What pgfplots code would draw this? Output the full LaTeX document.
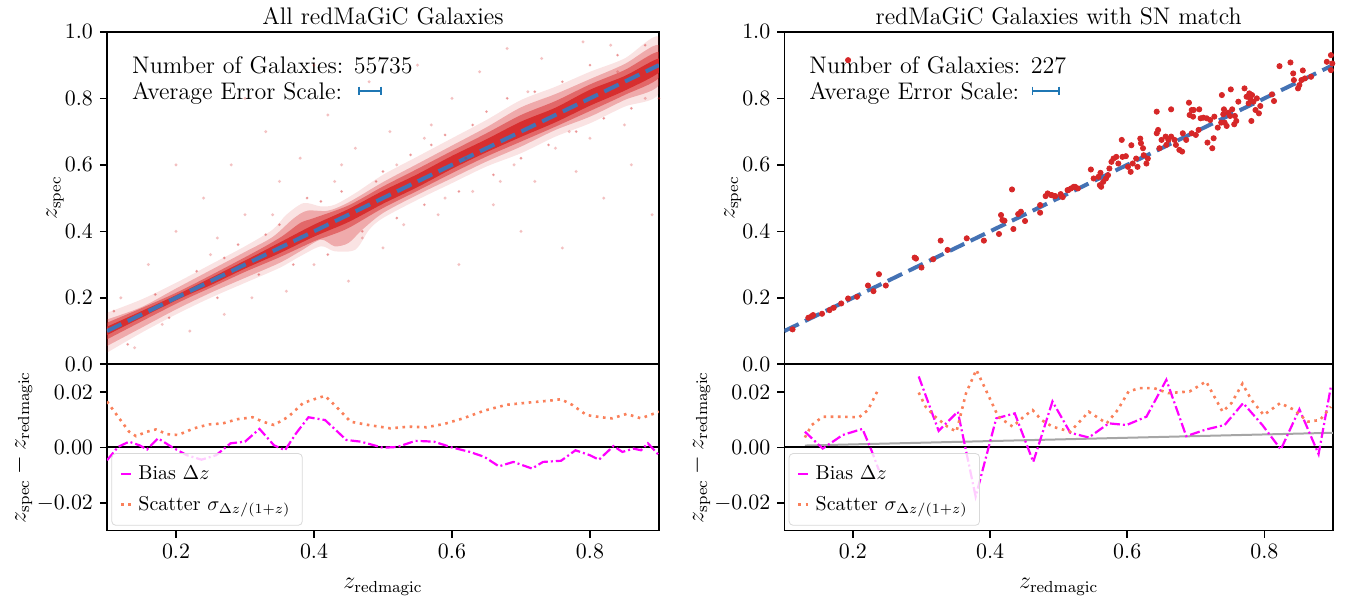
\documentclass[border=0pt]{standalone}
\usepackage{pgfplots}
\pgfplotsset{compat=1.18}
\definecolor{ptred}{RGB}{214,39,40}
\definecolor{lineblue}{RGB}{68,114,180}
\definecolor{errblue}{RGB}{31,119,180}
\definecolor{biasmag}{RGB}{255,0,255}
\definecolor{scatorange}{RGB}{250,128,90}
\tikzset{annot/.style={anchor=base west, inner sep=0pt, font=\fontsize{12}{14}\selectfont}}
\pgfplotsset{
  base/.style={scale only axis, xmin=0.1, xmax=0.9, tick align=outside,
    xtick pos=bottom, ytick pos=left, major tick length=3.5pt,
    tick style={black, line width=0.8pt}, axis line style={line width=0.8pt},
    tick label style={font=\fontsize{10.6}{12}\selectfont},
    label style={font=\fontsize{12}{14}\selectfont},
    title style={font=\fontsize{12}{14}\selectfont, yshift=-6pt},
    scaled ticks=false},
  topax/.style={base, ymin=0, ymax=1, ytick={0,0.2,0.4,0.6,0.8,1}, xtick=\empty,
    yticklabel style={/pgf/number format/.cd, fixed, fixed zerofill, precision=1},
    ylabel={$z_{\mathrm{spec}}$},
    ylabel style={at={(axis description cs:-0.094,0.5)}, anchor=center}},
  botax/.style={base, ymin=-0.03, ymax=0.03, ytick={-0.02,0,0.02},
    xtick={0.2,0.4,0.6,0.8},
    yticklabel style={/pgf/number format/.cd, fixed, fixed zerofill, precision=2},
    xticklabel style={/pgf/number format/.cd, fixed, fixed zerofill, precision=1},
    xlabel={$z_{\mathrm{redmagic}}$},
    xlabel style={yshift=-3pt},
    ylabel={$z_{\mathrm{spec}}-z_{\mathrm{redmagic}}$},
    ylabel style={at={(axis description cs:-0.154,0.5)}, anchor=center},
    unbounded coords=jump,
    legend style={at={(0.008,0.03)}, anchor=south west, draw=black!15, rounded corners=2pt,
      fill=white, fill opacity=0.8, text opacity=1, font=\fontsize{10}{12}\selectfont,
      inner xsep=4pt, inner ysep=4pt, row sep=3pt},
    legend cell align=left,
    legend image code/.code={\draw[##1] (0pt,0pt) -- (6pt,0pt);}},
  biasline/.style={biasmag, line width=1.1pt, dash pattern=on 5pt off 1.5pt on 1pt off 1.5pt},
  scatline/.style={scatorange, line width=1.3pt, dash pattern=on 1.3pt off 2.3pt},
}
\begin{document}
\begin{tikzpicture}
\useasboundingbox (0pt,0pt) rectangle (672.5pt,299pt);

% ---------------- left top ----------------
\begin{axis}[topax, at={(53.5pt,116.85pt)}, anchor=south west, width=276pt, height=166.2pt,
  title={All redMaGiC Galaxies}]
\addplot[ptred, only marks, mark=*, mark size=0.6pt, opacity=0.18, forget plot] coordinates {
(0.12,0.2) (0.14,0.05) (0.16,0.3) (0.18,0.12) (0.2,0.4) (0.22,0.1) (0.24,0.5) (0.25,0.33)
(0.27,0.15) (0.28,0.6) (0.3,0.45) (0.31,0.2) (0.33,0.7) (0.35,0.55) (0.36,0.22) (0.38,0.62)
(0.4,0.3) (0.42,0.75) (0.43,0.55) (0.45,0.25) (0.46,0.65) (0.48,0.85) (0.5,0.35) (0.51,0.7)
(0.53,0.42) (0.55,0.9) (0.56,0.68) (0.58,0.45) (0.6,0.8) (0.61,0.3) (0.63,0.52) (0.64,0.88)
(0.66,0.48) (0.68,0.95) (0.69,0.6) (0.7,0.4) (0.72,0.55) (0.73,0.92) (0.75,0.65) (0.76,0.35)
(0.78,0.58) (0.79,0.97) (0.8,0.68) (0.82,0.5) (0.83,0.96) (0.85,0.72) (0.86,0.6) (0.88,0.8)
(0.89,0.45) (0.4,0.9) (0.3,0.8) (0.2,0.6) (0.62,0.62) (0.67,0.55) (0.44,0.6) (0.52,0.6)
(0.57,0.72) (0.71,0.82) (0.77,0.7) (0.84,0.88) (0.26,0.38) (0.34,0.45) (0.47,0.38) (0.59,0.5)
};
\addplot[ptred, only marks, mark=*, mark size=0.5pt, opacity=0.3, forget plot] coordinates {
(0.11,0.16) (0.13,0.06) (0.17,0.21) (0.19,0.14) (0.23,0.28) (0.26,0.2) (0.29,0.36) (0.32,0.27)
(0.35,0.42) (0.37,0.3) (0.39,0.5) (0.42,0.33) (0.44,0.52) (0.47,0.4) (0.5,0.58) (0.52,0.44)
(0.54,0.63) (0.56,0.48) (0.59,0.69) (0.61,0.52) (0.63,0.72) (0.66,0.57) (0.68,0.8) (0.7,0.62)
(0.72,0.82) (0.74,0.66) (0.76,0.85) (0.78,0.7) (0.8,0.9) (0.82,0.74) (0.84,0.93) (0.86,0.77)
(0.88,0.96) (0.9,0.8) (0.65,0.76) (0.57,0.66) (0.49,0.55) (0.41,0.49) (0.33,0.39) (0.27,0.32)
};
\addplot[smooth, draw=none, fill=ptred, fill opacity=0.13, forget plot] coordinates {
(0.1,0.155) (0.15,0.195) (0.2,0.245) (0.25,0.3) (0.3,0.355) (0.34,0.405) (0.36,0.45) (0.385,0.485)
(0.41,0.475) (0.43,0.48) (0.46,0.515) (0.5,0.57) (0.55,0.625) (0.6,0.68) (0.65,0.735) (0.7,0.795)
(0.75,0.835) (0.8,0.88) (0.85,0.92) (0.9,0.985)
(0.9,0.815) (0.85,0.775) (0.8,0.725) (0.75,0.685) (0.7,0.635) (0.65,0.595) (0.6,0.545) (0.55,0.495)
(0.5,0.44) (0.48,0.405) (0.46,0.345) (0.43,0.34) (0.41,0.355) (0.38,0.325) (0.35,0.29) (0.3,0.245)
(0.25,0.2) (0.2,0.15) (0.15,0.095) (0.1,0.035)
};
\addplot[smooth, draw=none, fill=ptred, fill opacity=0.3, forget plot] coordinates {
(0.1,0.135) (0.15,0.172) (0.2,0.228) (0.25,0.283) (0.3,0.338) (0.34,0.383) (0.37,0.438) (0.39,0.462)
(0.42,0.462) (0.45,0.487) (0.5,0.548) (0.55,0.603) (0.6,0.658) (0.65,0.713) (0.7,0.773) (0.75,0.813)
(0.8,0.858) (0.85,0.903) (0.9,0.96)
(0.9,0.84) (0.85,0.795) (0.8,0.745) (0.75,0.705) (0.7,0.655) (0.65,0.61) (0.6,0.56) (0.55,0.51)
(0.5,0.455) (0.47,0.405) (0.45,0.365) (0.43,0.355) (0.41,0.375) (0.38,0.34) (0.35,0.305) (0.3,0.26)
(0.25,0.215) (0.2,0.165) (0.15,0.11) (0.1,0.055)
};
\addplot[smooth, draw=none, fill=ptred, fill opacity=0.5, forget plot] coordinates {
(0.1,0.125) (0.2,0.215) (0.3,0.322) (0.35,0.38) (0.38,0.425) (0.4,0.44) (0.45,0.478) (0.5,0.535)
(0.55,0.588) (0.6,0.642) (0.65,0.695) (0.7,0.75) (0.75,0.792) (0.8,0.842) (0.85,0.885) (0.9,0.94)
(0.9,0.862) (0.85,0.81) (0.8,0.762) (0.75,0.715) (0.7,0.67) (0.65,0.625) (0.6,0.575) (0.55,0.522)
(0.5,0.47) (0.45,0.41) (0.42,0.385) (0.4,0.37) (0.35,0.322) (0.3,0.278) (0.25,0.23) (0.2,0.182) (0.1,0.075)
};
\addplot[smooth, draw=none, fill=ptred, fill opacity=0.9, forget plot] coordinates {
(0.1,0.113) (0.2,0.208) (0.3,0.312) (0.35,0.366) (0.4,0.42) (0.45,0.467) (0.5,0.522) (0.55,0.572)
(0.6,0.627) (0.65,0.677) (0.7,0.73) (0.75,0.772) (0.8,0.826) (0.85,0.867) (0.9,0.92)
(0.9,0.878) (0.85,0.823) (0.8,0.778) (0.75,0.728) (0.7,0.684) (0.65,0.638) (0.6,0.588) (0.55,0.533)
(0.5,0.483) (0.45,0.428) (0.4,0.384) (0.35,0.334) (0.3,0.288) (0.25,0.238) (0.2,0.192) (0.1,0.088)
};
\addplot[lineblue, line width=2pt, dash pattern=on 8pt off 3.5pt, forget plot] coordinates {(0.1,0.1) (0.9,0.9)};
\addplot[errblue, line width=0.9pt, mark=|, mark size=2.2pt, mark options={solid, line width=0.9pt}, forget plot]
  coordinates {(0.465,0.822) (0.497,0.822)};
\node[annot] at (axis description cs:0.045,0.875) {Number of Galaxies: 55735};
\node[annot] at (axis description cs:0.045,0.797) {Average Error Scale:};
\end{axis}

% ---------------- left bottom ----------------
\begin{axis}[botax, at={(53.5pt,33.65pt)}, anchor=south west, width=276pt, height=83.2pt]
\addplot[black, line width=1pt, forget plot] coordinates {(0.1,0) (0.9,0)};
\addplot[biasline] coordinates {
(0.1,-0.0046) (0.116,0.0002) (0.132,0.0021) (0.147,0.0008) (0.158,-0.0007) (0.174,0.0033)
(0.195,0) (0.216,-0.0028) (0.237,-0.0044) (0.258,-0.0028) (0.279,0.0015) (0.3,0.0021)
(0.321,0.0067) (0.342,0.0008) (0.358,-0.001) (0.374,0.0051) (0.392,0.0109) (0.416,0.0099)
(0.447,0.0027) (0.468,0.0021) (0.5,-0.0001) (0.521,0.0002) (0.547,0.0024) (0.574,0.0021)
(0.6,0) (0.626,-0.0016) (0.647,-0.0034) (0.668,-0.0068) (0.689,-0.0052) (0.716,-0.0076)
(0.732,-0.0052) (0.758,-0.0048) (0.779,-0.001) (0.8,-0.0028) (0.813,-0.0044) (0.834,0.0005)
(0.847,-0.0016) (0.863,-0.0004) (0.874,-0.001) (0.884,0.0015) (0.9,-0.0028)
};
\addlegendentry{Bias $\Delta z$}
\addplot[scatline] coordinates {
(0.1,0.0166) (0.116,0.0111) (0.132,0.0057) (0.142,0.0041) (0.158,0.0057) (0.171,0.0065)
(0.187,0.0048) (0.203,0.0045) (0.226,0.0069) (0.247,0.0083) (0.268,0.0087) (0.289,0.0102)
(0.311,0.0109) (0.326,0.0093) (0.342,0.0081) (0.363,0.0111) (0.384,0.016) (0.405,0.0178)
(0.416,0.0186) (0.432,0.0148) (0.453,0.0093) (0.479,0.0081) (0.511,0.0069) (0.537,0.0075)
(0.563,0.0073) (0.589,0.0085) (0.616,0.0105) (0.647,0.0133) (0.679,0.0154) (0.711,0.0162)
(0.742,0.0169) (0.758,0.0174) (0.774,0.0154) (0.795,0.0117) (0.816,0.0109) (0.832,0.0105)
(0.853,0.0121) (0.874,0.0105) (0.9,0.0129)
};
\addlegendentry{Scatter $\sigma_{\Delta z/(1+z)}$}
\end{axis}

% ---------------- right top ----------------
\begin{axis}[topax, at={(392.15pt,116.85pt)}, anchor=south west, width=274.35pt, height=166.2pt,
  title={redMaGiC Galaxies with SN match}]
\addplot[ptred, only marks, mark=*, mark size=1.3pt, forget plot] coordinates {
(0.112,0.105) (0.135,0.14) (0.140,0.145) (0.142,0.148) (0.155,0.152) (0.166,0.163) (0.172,0.17)
(0.183,0.183) (0.193,0.198) (0.206,0.203) (0.222,0.237) (0.230,0.220) (0.238,0.271) (0.248,0.237)
(0.290,0.321) (0.292,0.318) (0.300,0.291) (0.317,0.316) (0.328,0.372) (0.338,0.344) (0.366,0.379)
(0.391,0.372) (0.413,0.392) (0.416,0.449) (0.418,0.434) (0.421,0.432) (0.432,0.526) (0.434,0.407)
(0.441,0.452) (0.445,0.459) (0.451,0.431) (0.473,0.479) (0.473,0.456) (0.481,0.506) (0.484,0.514)
(0.489,0.509) (0.494,0.506) (0.503,0.512) (0.506,0.503) (0.513,0.524) (0.522,0.534) (0.528,0.529)
(0.490,0.509) (0.495,0.506) (0.504,0.506) (0.514,0.524) (0.518,0.529) (0.524,0.534) (0.547,0.586)
(0.551,0.559) (0.558,0.564) (0.560,0.539) (0.561,0.576) (0.562,0.534) (0.565,0.549) (0.569,0.559)
(0.572,0.569) (0.574,0.589) (0.577,0.609) (0.580,0.619) (0.584,0.624) (0.587,0.604) (0.592,0.675)
(0.593,0.624) (0.598,0.626) (0.601,0.594) (0.605,0.579) (0.606,0.659) (0.608,0.604) (0.613,0.619)
(0.615,0.594) (0.619,0.679) (0.620,0.665) (0.623,0.650) (0.624,0.629) (0.628,0.604) (0.630,0.619)
(0.643,0.695) (0.643,0.760) (0.645,0.705) (0.647,0.650) (0.650,0.675) (0.656,0.685) (0.657,0.660)
(0.660,0.675) (0.664,0.767) (0.664,0.685) (0.669,0.675) (0.671,0.660) (0.676,0.645) (0.680,0.640)
(0.681,0.695) (0.686,0.675) (0.690,0.787) (0.691,0.750) (0.694,0.765) (0.696,0.745) (0.697,0.765)
(0.694,0.695) (0.700,0.690) (0.704,0.705) (0.705,0.767) (0.707,0.740) (0.711,0.742) (0.716,0.740)
(0.717,0.667) (0.721,0.735) (0.724,0.650) (0.726,0.680) (0.727,0.745) (0.732,0.712) (0.737,0.727)
(0.738,0.810) (0.740,0.752) (0.741,0.767) (0.742,0.727) (0.745,0.717) (0.747,0.757) (0.750,0.747)
(0.751,0.827) (0.753,0.767) (0.756,0.722) (0.757,0.747) (0.759,0.732) (0.762,0.790) (0.771,0.830)
(0.774,0.805) (0.777,0.785) (0.778,0.815) (0.779,0.800) (0.781,0.732) (0.782,0.810) (0.784,0.790)
(0.787,0.765) (0.789,0.800) (0.792,0.755) (0.794,0.777) (0.811,0.812) (0.814,0.792) (0.822,0.897)
(0.838,0.908) (0.842,0.875) (0.843,0.855) (0.849,0.830) (0.851,0.840) (0.854,0.855) (0.856,0.884)
(0.859,0.860) (0.868,0.865) (0.891,0.910) (0.897,0.930) (0.897,0.885) (0.899,0.905) (0.193,0.915)
};
\addplot[lineblue, line width=2pt, dash pattern=on 8pt off 3.5pt, forget plot] coordinates {(0.1,0.1) (0.9,0.9)};
\addplot[errblue, line width=0.9pt, mark=|, mark size=2.2pt, mark options={solid, line width=0.9pt}, forget plot]
  coordinates {(0.462,0.822) (0.500,0.822)};
\node[annot] at (axis description cs:0.045,0.875) {Number of Galaxies: 227};
\node[annot] at (axis description cs:0.045,0.797) {Average Error Scale:};
\end{axis}

% ---------------- right bottom ----------------
\begin{axis}[botax, at={(392.15pt,33.65pt)}, anchor=south west, width=274.35pt, height=83.2pt]
\addplot[black!35, line width=1pt, forget plot] coordinates {(0.13,0.0007) (0.9,0.0053)};
\addplot[black, line width=1pt, forget plot] coordinates {(0.1,0) (0.9,0)};
\addplot[biasline] coordinates {
(0.130,0.0057) (0.156,-0.0004) (0.185,0.0045) (0.214,0.0067) (0.227,-0.001) (0.238,-0.0082)
(0.26,nan)
(0.296,0.0256) (0.325,0.006) (0.353,0.0129) (0.379,-0.0177) (0.409,0.0105) (0.436,0.0123)
(0.463,-0.0052) (0.491,0.0166) (0.517,0.0053) (0.544,0.0036) (0.573,0.0087) (0.599,0.0081)
(0.628,0.0111) (0.657,0.0244) (0.686,0.0041) (0.715,0.0065) (0.742,0.0081) (0.769,0.016)
(0.797,0.0081) (0.824,-0.0007) (0.851,0.0138) (0.879,-0.0024) (0.897,0.022)
};
\addlegendentry{Bias $\Delta z$}
\addplot[scatline] coordinates {
(0.130,0.0036) (0.140,0.0081) (0.156,0.0111) (0.183,0.0111) (0.209,0.0109) (0.222,0.0135)
(0.238,0.0214)
(0.26,nan)
(0.296,0.0198) (0.306,0.0147) (0.320,0.0111) (0.338,0.0075) (0.351,0.0057) (0.365,0.0196)
(0.380,0.028) (0.396,0.0196) (0.412,0.0111) (0.433,0.0075) (0.449,0.0111) (0.462,0.0135)
(0.475,0.0099) (0.491,0.0075) (0.517,0.0057) (0.544,0.0129) (0.570,0.0087) (0.586,0.0135)
(0.602,0.0202) (0.618,0.0214) (0.639,0.0214) (0.660,0.0196) (0.691,0.0202) (0.715,0.0238)
(0.739,0.0129) (0.752,0.016) (0.768,0.023) (0.781,0.0172) (0.799,0.0117) (0.823,0.016)
(0.844,0.0135) (0.863,0.0093) (0.881,0.0099) (0.897,0.0147)
};
\addlegendentry{Scatter $\sigma_{\Delta z/(1+z)}$}
\end{axis}
\end{tikzpicture}
\end{document}
